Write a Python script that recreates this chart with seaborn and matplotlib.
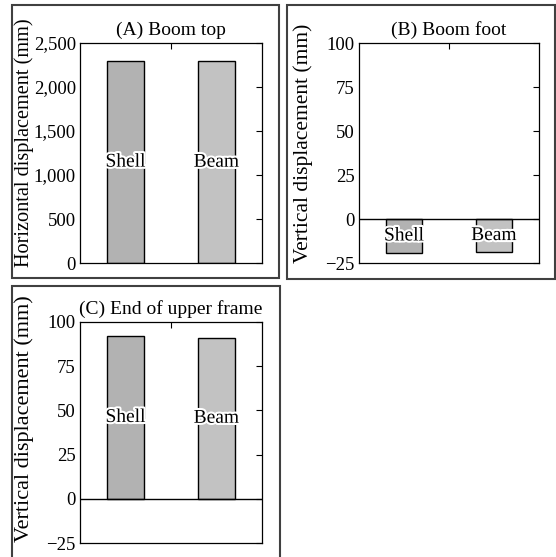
import matplotlib
matplotlib.use("Agg")
import matplotlib.pyplot as plt
import matplotlib.patheffects as pe
from matplotlib.patches import Rectangle
from matplotlib.ticker import FuncFormatter
import seaborn as sns

# data
models = ["Shell", "Beam"]
boom_top = [2292, 2290]          # horizontal displacement (mm)
boom_foot = [-19.3, -18.8]       # vertical displacement (mm)
upper_frame = [92.0, 91.1]       # vertical displacement (mm)

bar_colors = ["#b2b2b2", "#c2c2c2"]

sns.set_theme(style="white")
plt.rcParams["font.family"] = ["Liberation Serif", "DejaVu Serif"]
plt.rcParams["axes.unicode_minus"] = True
plt.rcParams["text.color"] = "black"
plt.rcParams["axes.labelcolor"] = "black"

W, H = 556, 557
fig = plt.figure(figsize=(W / 100, H / 100), dpi=100)


def fx(px):
    return px / W


def fy(py):
    return 1 - py / H


panels = [
    dict(vals=boom_top, title="(A) Boom top", ylabel="Horizontal displacement (mm)", lsize=14.6,
         lpos=(-0.253, 0.545),
         ylim=(0, 2500), ticks=[0, 500, 1000, 1500, 2000, 2500],
         rect=[fx(80), fy(263), fx(182), 220 / H], box=(12, 5, 279, 278), zero=False),
    dict(vals=boom_foot, title="(B) Boom foot", ylabel="Vertical displacement (mm)", lsize=15.5,
         lpos=(-0.256, 0.545),
         ylim=(-25, 100), ticks=[-25, 0, 25, 50, 75, 100],
         rect=[fx(359), fy(263), fx(180), 220 / H], box=(287, 5, 555, 279), zero=True),
    dict(vals=upper_frame, title="(C) End of upper frame", ylabel="Vertical displacement (mm)", lsize=16,
         lpos=(-0.253, 0.565),
         ylim=(-25, 100), ticks=[-25, 0, 25, 50, 75, 100],
         rect=[fx(80), fy(543), fx(182), 221 / H], box=(12, 286, 280, 570), zero=True),
]

for p in panels:
    ax = fig.add_axes(p["rect"])
    sns.barplot(x=models, y=p["vals"], hue=models, palette=bar_colors, width=0.4,
                edgecolor="black", linewidth=1, legend=False, ax=ax)
    ax.set_xlim(-0.5, 1.5)
    ax.set_ylim(*p["ylim"])
    ax.set_yticks(p["ticks"])
    ax.yaxis.set_major_formatter(FuncFormatter(lambda v, _: f"{v:,.0f}".replace("-", "\u2212")))
    ax.set_xticks([0.5])
    ax.set_xticklabels([""])
    ax.tick_params(direction="in", top=True, right=True, length=4, width=0.8,
                   labelsize=13.5, pad=3, colors="black")
    for s in ax.spines.values():
        s.set_color("black")
        s.set_linewidth(0.9)
    if p["zero"]:
        ax.axhline(0, color="black", lw=1)
    ax.set_title(p["title"], fontsize=14, pad=6, color="black")
    ax.set_ylabel(p["ylabel"], fontsize=p["lsize"])
    ax.yaxis.set_label_coords(*p["lpos"])
    ax.set_xlabel("")
    for i, v in enumerate(p["vals"]):
        ax.text(i, v / 2, models[i], ha="center", va="center", fontsize=14,
                path_effects=[pe.withStroke(linewidth=3, foreground="white")])

    x0, y0, x1, y1 = p["box"]
    fig.patches.append(Rectangle((fx(x0), fy(y1)), fx(x1 - x0), (y1 - y0) / H,
                                 transform=fig.transFigure, fill=False,
                                 edgecolor="#404040", linewidth=1.5))

fig.savefig("out.png", dpi=100)
